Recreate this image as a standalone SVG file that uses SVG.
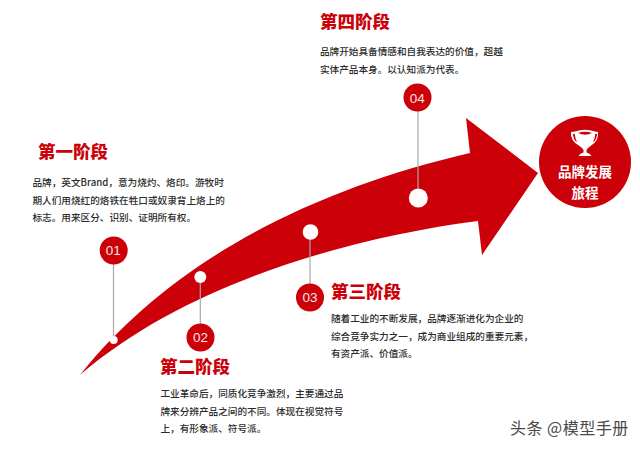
<svg xmlns="http://www.w3.org/2000/svg" width="640" height="449" viewBox="0 0 640 449">
<style>
text{font-family:"Noto Sans CJK SC","Liberation Sans",sans-serif}
.t{font-size:17.5px;font-weight:900;fill:#cc0009}
.b{font-size:9.65px;fill:#2b2b2b;font-weight:500}
.n{font-family:"Liberation Sans",sans-serif;font-size:13.5px;fill:#fbe6e6;text-anchor:middle}
.c{fill:#cc0009}
.d{fill:#fff}
.l{stroke:#a8a8a8;stroke-width:1.2;fill:none}
.h{font-size:13.5px;font-weight:700;fill:#fff;text-anchor:middle}
</style>
<rect width="640" height="449" fill="#fff"/>
<path id="arrow" class="c" d="M80 375C170 262 310 190 470 153L466 118L538 173L482 255L478 221C360 236 190 280 80 375Z"/>
<g id="connectors">
<path class="l" d="M113.5 250V340"/>
<path class="l" d="M200.300 277V337"/>
<path class="l" d="M310 232V297"/>
<path class="l" d="M418 97V198"/>
</g>
<g id="node1">
<circle class="d" cx="113.700" cy="340" r="4"/>
<circle class="c" cx="113.700" cy="250.500" r="14"/>
<text class="n" x="113.300" y="255">01</text>
<text class="t" x="38" y="158">第一阶段</text>
<text class="b" x="32.500" y="186">品牌，英文Brand，意为烧灼、烙印。游牧时</text>
<text class="b" x="32.500" y="203.500">期人们用烧红的烙铁在牲口或奴隶背上烙上的</text>
<text class="b" x="32.500" y="221">标志。用来区分、识别、证明所有权。</text>
</g>
<g id="node2">
<circle class="d" cx="200.300" cy="277" r="6"/>
<circle class="c" cx="200.500" cy="337.500" r="14"/>
<text class="n" x="200.500" y="342">02</text>
<text class="t" x="160" y="372.500">第二阶段</text>
<text class="b" x="160.500" y="397">工业革命后，同质化竞争激烈，主要通过品</text>
<text class="b" x="160.500" y="414.500">牌来分辨产品之间的不同。体现在视觉符号</text>
<text class="b" x="160.500" y="432">上，有形象派、符号派。</text>
</g>
<g id="node3">
<circle class="d" cx="310.500" cy="232" r="7.800"/>
<circle class="c" cx="310" cy="297.500" r="14"/>
<text class="n" x="310" y="302">03</text>
<text class="t" x="331" y="298">第三阶段</text>
<text class="b" x="331" y="322">随着工业的不断发展，品牌逐渐进化为企业的</text>
<text class="b" x="331" y="339.500">综合竞争实力之一，成为商业组成的重要元素，</text>
<text class="b" x="331" y="357">有资产派、价值派。</text>
</g>
<g id="node4">
<circle class="d" cx="418.300" cy="198" r="9.500"/>
<circle class="c" cx="417.500" cy="97.500" r="14"/>
<text class="n" x="417.300" y="102.500">04</text>
<text class="t" x="320" y="27.500">第四阶段</text>
<text class="b" x="320" y="55">品牌开始具备情感和自我表达的价值，超越</text>
<text class="b" x="320" y="72.500">实体产品本身。以认知派为代表。</text>
</g>
<g id="goal">
<circle class="c" cx="585" cy="162" r="46"/>
<path class="d" fill-rule="evenodd" d="M575 131.500Q585 128 595 131.500L598 132Q599 141 590.500 146Q587.500 148 586.500 150V152.500Q590 153 591.500 156H578.500Q580 153 583.500 152.500V150Q582.500 148 579.500 146Q570 141 571 132ZM573 134Q573 139 577 142.500Q575 138 574.800 134ZM597 134H595.200Q595 138 593 142.500Q597 139 597 134ZM578 133Q585 136.500 592 133Q585 130.500 578 133Z"/>
<text class="h" x="585" y="177">品牌发展</text>
<text class="h" x="585" y="198">旅程</text>
</g>
<text id="watermark" x="510" y="434" font-size="16" letter-spacing="0.500" fill="#4a4a4a">头条 @模型手册</text>
</svg>
